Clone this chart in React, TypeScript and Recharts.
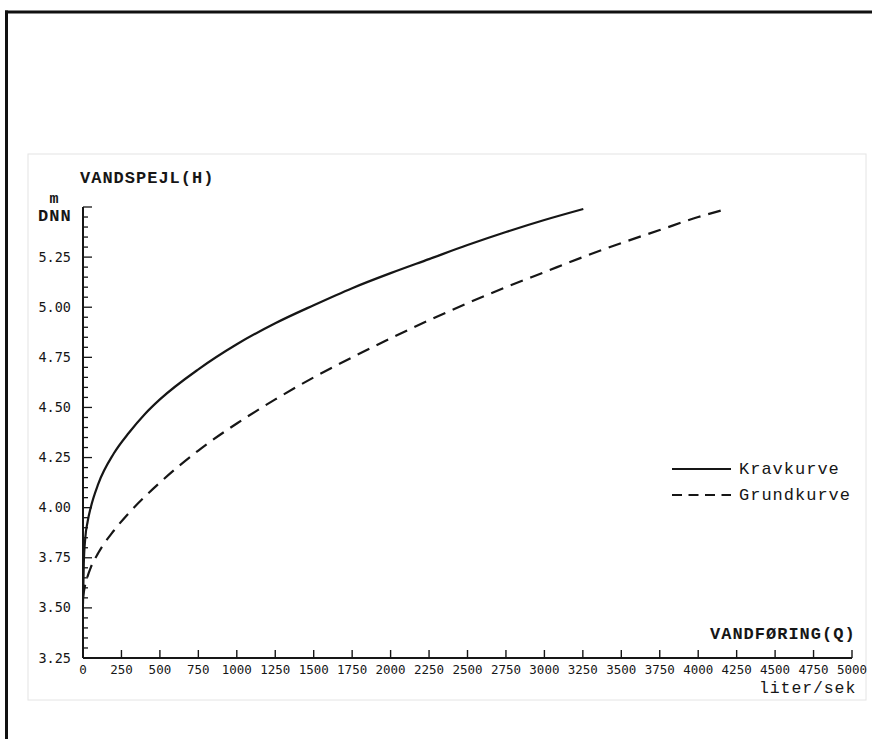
import React from 'react';
import { LineChart, Line, XAxis, YAxis } from 'recharts';

// Kravkurve (solid)
const kravQ = [0, 5, 15, 30, 50, 100, 200, 300, 400, 500, 750, 1000, 1250, 1500, 1750, 2000, 2250, 2500, 2750, 3000, 3253];
const kravH = [3.52, 3.72, 3.85, 3.93, 4.0, 4.12, 4.27, 4.375, 4.465, 4.54, 4.69, 4.815, 4.92, 5.01, 5.095, 5.17, 5.24, 5.31, 5.375, 5.435, 5.49];

// Grundkurve (dashed)
const grundQ = [0, 10, 25, 50, 100, 200, 300, 500, 750, 1000, 1250, 1500, 1750, 2000, 2250, 2500, 2750, 3000, 3250, 3500, 3750, 4000, 4185];
const grundH = [3.55, 3.6, 3.645, 3.70, 3.775, 3.885, 3.975, 4.125, 4.285, 4.42, 4.54, 4.65, 4.75, 4.845, 4.935, 5.02, 5.1, 5.175, 5.25, 5.32, 5.385, 5.45, 5.49];

const xTicks = [0, 250, 500, 750, 1000, 1250, 1500, 1750, 2000, 2250, 2500, 2750, 3000, 3250, 3500, 3750, 4000, 4250, 4500, 4750, 5000];
const yMajorTicks = [3.25, 3.5, 3.75, 4.0, 4.25, 4.5, 4.75, 5.0, 5.25, 5.5];
const yMajorLabels = ['3.25', '3.50', '3.75', '4.00', '4.25', '4.50', '4.75', '5.00', '5.25', ''];
const yMinorPerMajor = 5;

const legendItems = [
  { name: 'Kravkurve', dash: undefined as string | undefined },
  { name: 'Grundkurve', dash: '10 6.5' },
];

const kravData = kravQ.map((q, i) => ({ q, h: kravH[i] }));
const grundData = grundQ.map((q, i) => ({ q, h: grundH[i] }));

const yTicks: number[] = [];
for (let i = 0; i < yMajorTicks.length - 1; i++) {
  const a = yMajorTicks[i];
  const b = yMajorTicks[i + 1];
  for (let k = 0; k < yMinorPerMajor; k++) yTicks.push(a + ((b - a) * k) / yMinorPerMajor);
}
yTicks.push(yMajorTicks[yMajorTicks.length - 1]);

const INK = '#161616';
const TICK_FONT = '"DejaVu Sans Mono", monospace';
const LABEL_FONT = '"Liberation Mono", "Courier New", monospace';

const XTick = (props: any) => {
  const { x, y, payload } = props;
  const v = payload.value;
  return (
    <g>
      {v !== 0 && <line x1={x} x2={x} y1={y} y2={y - 8} stroke={INK} strokeWidth={1.4} />}
      <text x={x} y={y + 16} textAnchor="middle" fontFamily={TICK_FONT} fontSize={12.5} fill={INK}>
        {String(v)}
      </text>
    </g>
  );
};

const YTick = (props: any) => {
  const { x, y, payload } = props;
  const v = payload.value;
  const idx = yMajorTicks.findIndex((m) => Math.abs(m - v) < 1e-6);
  const major = idx >= 0;
  return (
    <g>
      <line x1={x} x2={x + (major ? 9 : 5)} y1={y} y2={y} stroke={INK} strokeWidth={1.3} />
      {major && yMajorLabels[idx] && (
        <text x={x - 12} y={y + 4.5} textAnchor="end" fontFamily={TICK_FONT} fontSize={13.5} fill={INK}>
          {yMajorLabels[idx]}
        </text>
      )}
    </g>
  );
};

export default function App() {
  return (
    <div style={{ position: 'absolute', left: 0, top: 0, width: 872, height: 739, background: '#ffffff' }}>
      <svg width={872} height={739} style={{ position: 'absolute', left: 0, top: 0 }}>
        <rect x={28} y={154} width={838} height={546} fill="none" stroke="#e4e4e4" strokeWidth={1} />
        <line x1={5} x2={872} y1={12} y2={12} stroke="#111" strokeWidth={3} />
        <line x1={6.5} x2={6.5} y1={10.5} y2={739} stroke="#111" strokeWidth={3} />
      </svg>
      <div style={{ position: 'absolute', left: 0, top: 0 }}>
        <LineChart width={872} height={739} margin={{ top: 207, right: 20, bottom: 51, left: 23 }}>
          <XAxis
            dataKey="q"
            type="number"
            domain={[0, 5000]}
            ticks={xTicks}
            interval={0}
            height={30}
            allowDataOverflow
            axisLine={{ stroke: INK, strokeWidth: 2 }}
            tickLine={false}
            tickSize={0}
            tickMargin={0}
            tick={<XTick />}
          />
          <YAxis
            type="number"
            domain={[3.25, 5.5]}
            ticks={yTicks}
            interval={0}
            width={60}
            allowDataOverflow
            axisLine={{ stroke: INK, strokeWidth: 2 }}
            tickLine={false}
            tickSize={0}
            tickMargin={0}
            tick={<YTick />}
          />
          <Line
            data={kravData}
            dataKey="h"
            name="Kravkurve"
            type="monotone"
            stroke={INK}
            strokeWidth={2.2}
            dot={false}
            isAnimationActive={false}
          />
          <Line
            data={grundData}
            dataKey="h"
            name="Grundkurve"
            type="monotone"
            stroke={INK}
            strokeWidth={2.2}
            strokeDasharray="13 8"
            dot={false}
            isAnimationActive={false}
          />
        </LineChart>
      </div>
      <svg width={872} height={739} style={{ position: 'absolute', left: 0, top: 0, pointerEvents: 'none' }}>
        <text x={80} y={183} fontFamily={LABEL_FONT} fontWeight="bold" fontSize={17} letterSpacing={1} fill={INK}>
          VANDSPEJL(H)
        </text>
        <text x={54} y={203} textAnchor="middle" fontFamily={LABEL_FONT} fontWeight="bold" fontSize={15} fill={INK}>
          m
        </text>
        <text x={38} y={221} fontFamily={LABEL_FONT} fontWeight="bold" fontSize={17} letterSpacing={1} fill={INK}>
          DNN
        </text>
        <text x={710} y={639} fontFamily={LABEL_FONT} fontWeight="bold" fontSize={17} letterSpacing={1} fill={INK}>
          VANDFØRING(Q)
        </text>
        <text x={759} y={693} fontFamily={LABEL_FONT} fontSize={16.5} letterSpacing={0.9} fill={INK}>
          liter/sek
        </text>
        {legendItems.map((it, i) => (
          <g key={it.name}>
            <line
              x1={672}
              x2={731}
              y1={469 + i * 26}
              y2={469 + i * 26}
              stroke={INK}
              strokeWidth={1.8}
              strokeDasharray={it.dash}
            />
            <text x={739} y={474 + i * 26} fontFamily={LABEL_FONT} fontSize={17} letterSpacing={1} fill={INK}>
              {it.name}
            </text>
          </g>
        ))}
      </svg>
    </div>
  );
}
